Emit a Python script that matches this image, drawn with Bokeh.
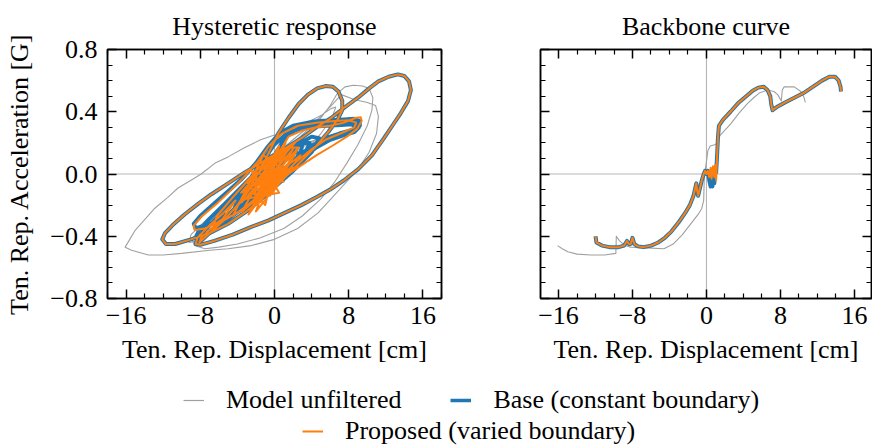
from bokeh.plotting import figure
from bokeh.models import (FixedTicker, CustomJSTickFormatter, LinearAxis, Span,
                          Range1d, Legend, LegendItem)
from bokeh.layouts import column, row
from bokeh.embed import file_html
from bokeh.resources import INLINE

FONT = "Liberation Serif"
FS = "26px"
BLUE = "#1f77b4"
ORANGE = "#ff7f0e"
GRAY = "#a0a0a0"

# ---------------- tick values ----------------
x_major = [-16, -8, 0, 8, 16]
x_minor = [-18, -14, -12, -10, -6, -4, -2, 2, 4, 6, 10, 12, 14, 18]
y_major = [-0.8, -0.4, 0.0, 0.4, 0.8]
y_minor = [-0.7, -0.6, -0.5, -0.3, -0.2, -0.1, 0.1, 0.2, 0.3, 0.5, 0.6, 0.7]

# ---------------- hysteretic response (x [cm], y [G]) ----------------
base_center = [(0.0, 0.00), (1.0, 0.08), (2.2, 0.14), (2.7, 0.13), (1.8, 0.05), (0.0, -0.05),
               (-2.0, -0.14), (-2.8, -0.16), (-2.3, -0.09), (-1.0, 0.01), (1.0, 0.12), (3.0, 0.20),
               (3.8, 0.20), (3.2, 0.12), (1.2, 0.00), (-1.2, -0.12), (-3.5, -0.22), (-4.4, -0.24),
               (-4.0, -0.16), (-2.5, -0.06), (-0.2, 0.07), (2.0, 0.17), (4.0, 0.24), (4.8, 0.23),
               (4.0, 0.14), (2.0, 0.02), (-0.5, -0.11), (-3.0, -0.21), (-5.0, -0.28), (-5.9, -0.30),
               (-5.3, -0.22), (-3.5, -0.11), (-1.0, -0.01)]
base_band = [(0.0, 0.12), (1.2, 0.24), (2.5, 0.29), (4.0, 0.31), (5.5, 0.32), (7.0, 0.33), (8.3, 0.34),
             (9.0, 0.33), (9.1, 0.30), (8.6, 0.27), (7.5, 0.25), (6.0, 0.22), (4.5, 0.17), (3.0, 0.10),
             (1.5, 0.02), (0.0, -0.06), (-2.0, -0.16), (-4.0, -0.24), (-6.0, -0.30), (-7.5, -0.33),
             (-8.5, -0.35), (-8.7, -0.32), (-8.0, -0.27), (-6.5, -0.19), (-5.0, -0.11), (-3.5, -0.03),
             (-2.0, 0.07), (-0.8, 0.17), (0.5, 0.26), (2.0, 0.31), (4.0, 0.335), (6.0, 0.345),
             (7.5, 0.35), (8.6, 0.355), (9.2, 0.34), (9.2, 0.31), (8.5, 0.285), (7.0, 0.26), (5.5, 0.23),
             (4.0, 0.18), (2.5, 0.11), (1.0, 0.03), (-1.0, -0.08), (-3.0, -0.18), (-5.0, -0.26),
             (-6.8, -0.32), (-8.0, -0.37), (-8.4, -0.40), (-8.2, -0.37), (-7.2, -0.30), (-5.5, -0.20),
             (-4.0, -0.11), (-2.5, -0.02), (-1.2, 0.09), (0.0, 0.19), (1.5, 0.27), (3.5, 0.30),
             (5.5, 0.31), (7.2, 0.315), (8.3, 0.32), (8.8, 0.30), (8.4, 0.27), (7.0, 0.245),
             (5.5, 0.215), (4.0, 0.16), (2.5, 0.09), (1.0, 0.01), (-1.0, -0.10), (-3.0, -0.20),
             (-5.0, -0.29), (-6.5, -0.35), (-7.6, -0.40)]
mid_loop = [(-8.1, -0.44), (-7.0, -0.38), (-5.5, -0.30), (-4.0, -0.20), (-2.8, -0.10), (-1.5, 0.03),
            (-0.5, 0.15), (0.4, 0.26), (1.5, 0.36), (2.6, 0.45), (3.6, 0.51), (4.6, 0.55), (5.5, 0.565),
            (6.3, 0.56), (6.9, 0.53), (7.3, 0.47), (7.3, 0.41), (6.8, 0.35), (5.8, 0.27), (4.5, 0.18),
            (3.0, 0.09), (1.0, -0.03), (-1.0, -0.14), (-3.0, -0.24), (-5.0, -0.32), (-7.0, -0.38),
            (-9.0, -0.42), (-10.7, -0.45), (-11.7, -0.45), (-12.1, -0.42), (-11.8, -0.38)]
big_loop = [(-11.0, -0.33), (-9.7, -0.26), (-8.2, -0.19), (-6.8, -0.13), (-5.0, -0.06), (-3.2, 0.01),
            (-1.8, 0.06), (-0.7, 0.10), (1.0, 0.16), (2.9, 0.23), (4.5, 0.30), (6.1, 0.36), (7.6, 0.43),
            (9.0, 0.49), (10.2, 0.55), (11.2, 0.595), (12.3, 0.625), (13.3, 0.64), (14.0, 0.63),
            (14.5, 0.595), (14.7, 0.54), (14.4, 0.47), (13.6, 0.39), (12.7, 0.31), (11.8, 0.23),
            (10.5, 0.12), (9.0, 0.03), (7.5, -0.04), (6.0, -0.10), (4.5, -0.15), (2.9, -0.20),
            (1.1, -0.25), (-0.7, -0.30), (-2.5, -0.34), (-4.5, -0.39), (-6.5, -0.43), (-8.0, -0.455),
            (-8.5, -0.45), (-8.3, -0.41)]
base_tail = [(-7.0, -0.33), (-5.5, -0.24), (-4.0, -0.14), (-2.5, -0.04), (-1.0, 0.06), (0.5, 0.13),
             (2.0, 0.18), (3.0, 0.19), (2.8, 0.13), (1.2, 0.03), (-1.0, -0.10), (-2.5, -0.17),
             (-3.2, -0.18), (-2.4, -0.09), (-0.8, 0.02), (0.5, 0.07), (0.8, 0.04), (0.0, -0.01)]

prop_center = [(0.0, 0.02), (2.0, 0.16), (-1.5, -0.18), (1.0, 0.12), (-2.5, -0.08), (2.5, 0.05),
               (-3.5, -0.24), (0.5, 0.18), (-1.0, -0.20), (-3.0, -0.05), (1.5, 0.02), (-2.0, -0.24),
               (0.0, 0.10), (-4.0, -0.20), (2.8, 0.12), (-0.5, -0.14), (-2.5, 0.02), (1.0, -0.05),
               (-1.5, 0.08), (0.5, -0.12), (-3.2, -0.16), (2.2, 0.20), (-0.8, 0.05), (-2.2, -0.20),
               (1.8, 0.08), (-0.2, -0.08), (-4.5, -0.27), (-1.2, 0.12), (0.8, 0.03), (-2.8, -0.26),
               (1.2, 0.20), (-0.6, -0.02), (-3.6, -0.12), (0.3, 0.14), (-1.8, -0.12), (2.6, 0.17),
               (0.0, -0.10), (-2.4, -0.02), (1.4, 0.15), (-1.0, -0.08), (0.6, 0.06), (-0.3, 0.0)]
prop_band = [(0.4, 0.13), (1.5, 0.24), (3.0, 0.28), (4.5, 0.30), (6.0, 0.31), (7.5, 0.33), (8.7, 0.36),
             (9.3, 0.365), (9.4, 0.34), (8.9, 0.29), (7.8, 0.24), (6.2, 0.18), (4.5, 0.12), (3.0, 0.06),
             (1.5, 0.0), (0.0, -0.08), (-2.0, -0.17), (-4.0, -0.25), (-6.0, -0.31), (-7.5, -0.35),
             (-8.6, -0.36), (-8.7, -0.33), (-7.8, -0.27), (-6.2, -0.19), (-4.8, -0.11), (-3.3, -0.02),
             (-1.8, 0.08), (-0.6, 0.18), (0.8, 0.26), (2.5, 0.31), (4.5, 0.33), (6.5, 0.34), (8.0, 0.345),
             (8.8, 0.33), (8.6, 0.30), (7.3, 0.265), (5.5, 0.22), (3.8, 0.15), (2.2, 0.07), (0.5, -0.03),
             (-1.5, -0.13), (-3.5, -0.23), (-5.5, -0.30), (-7.0, -0.36), (-7.9, -0.41)]
prop_tail = [(-7.0, -0.33), (-5.5, -0.25), (-4.2, -0.17), (-5.6, -0.29), (-6.6, -0.33), (-6.2, -0.27),
             (-4.5, -0.15), (-3.0, -0.05), (-1.5, 0.05), (0.0, 0.12), (1.5, 0.17), (2.5, 0.17), (1.5, 0.07),
             (-0.5, -0.06), (-2.0, -0.14), (-2.4, -0.12), (-1.0, -0.02), (0.2, 0.02)]

gray_center = [(0.0, 0.03), (1.5, 0.09), (3.0, 0.14), (3.3, 0.12), (2.0, 0.05), (0.0, -0.04),
               (-2.0, -0.12), (-3.5, -0.17), (-3.7, -0.15), (-2.5, -0.08), (-0.5, 0.02), (2.0, 0.13),
               (4.0, 0.21), (5.0, 0.23), (4.2, 0.15), (2.0, 0.03), (-0.5, -0.09), (-3.0, -0.20),
               (-5.5, -0.30), (-7.2, -0.36), (-7.3, -0.33)]
gray_loop1 = [(-6.5, -0.28), (-4.5, -0.17), (-2.5, -0.06), (-0.5, 0.06), (1.5, 0.17), (3.5, 0.28),
              (5.0, 0.36), (6.0, 0.44), (6.8, 0.52), (7.6, 0.56), (8.5, 0.57), (9.5, 0.565), (10.2, 0.55),
              (10.6, 0.49), (10.5, 0.41), (10.0, 0.31), (9.0, 0.19), (7.8, 0.07), (6.5, -0.05),
              (5.0, -0.16), (3.0, -0.27), (1.0, -0.35), (-1.5, -0.41), (-4.0, -0.45), (-6.0, -0.47),
              (-7.5, -0.48), (-8.6, -0.46), (-8.9, -0.42), (-8.3, -0.37)]
gray_loop2 = [(-7.0, -0.30), (-5.0, -0.19), (-3.0, -0.07), (-1.0, 0.06), (1.0, 0.17), (3.0, 0.27),
              (5.0, 0.37), (6.3, 0.45), (7.2, 0.51), (8.5, 0.48), (10.0, 0.46), (10.9, 0.44), (11.2, 0.37),
              (11.0, 0.26), (10.2, 0.14), (9.0, 0.03), (7.0, -0.10), (4.7, -0.25), (2.5, -0.35),
              (0.0, -0.42), (-2.5, -0.46), (-5.0, -0.48), (-7.0, -0.49), (-10.0, -0.51), (-12.0, -0.52),
              (-13.6, -0.52), (-15.4, -0.49), (-16.1, -0.47), (-15.6, -0.42), (-15.0, -0.36),
              (-13.8, -0.28), (-12.9, -0.22), (-11.5, -0.15), (-10.4, -0.09), (-9.0, -0.04), (-7.9, 0.0),
              (-6.4, 0.07), (-5.0, 0.11), (-3.2, 0.17), (-1.5, 0.22), (0.0, 0.25), (1.8, 0.28),
              (3.5, 0.33), (5.1, 0.38), (6.1, 0.42), (6.6, 0.43), (6.2, 0.36), (5.0, 0.26), (3.5, 0.16),
              (1.5, 0.04), (-0.5, -0.07), (-2.5, -0.17), (-4.5, -0.27), (-6.5, -0.36), (-8.3, -0.43),
              (-9.2, -0.44), (-9.0, -0.39), (-7.8, -0.32), (-6.0, -0.22), (-4.0, -0.11), (-2.0, -0.01),
              (0.0, 0.08), (1.5, 0.12), (1.0, 0.06), (0.0, 0.01)]

# ---------------- backbone curve ----------------
bb_base = [(-12.0, -0.40), (-11.9, -0.44), (-11.3, -0.46), (-10.5, -0.47), (-9.5, -0.47), (-8.9, -0.46),
           (-8.6, -0.43), (-8.4, -0.45), (-8.2, -0.45), (-8.0, -0.41), (-7.8, -0.45), (-7.4, -0.465),
           (-6.8, -0.47), (-6.0, -0.46), (-5.2, -0.44), (-4.5, -0.41), (-3.8, -0.37), (-3.0, -0.31),
           (-2.3, -0.25), (-1.8, -0.20), (-1.4, -0.14), (-1.1, -0.06), (-1.0, -0.11), (-0.9, -0.14),
           (-0.7, -0.09), (-0.5, -0.04), (-0.3, 0.0), (-0.15, 0.02), (0.0, 0.0), (0.15, 0.02),
           (0.3, -0.04), (0.45, -0.08), (0.55, -0.01), (0.65, -0.08), (0.75, 0.03), (0.85, -0.06),
           (0.95, 0.04), (1.05, 0.01), (1.15, 0.12), (1.25, 0.24), (1.35, 0.31), (1.8, 0.35),
           (2.6, 0.40), (3.5, 0.46), (4.3, 0.50), (5.0, 0.535), (5.6, 0.555), (6.2, 0.56), (6.6, 0.54),
           (6.9, 0.50), (7.0, 0.45), (7.15, 0.41), (7.6, 0.43), (8.5, 0.46), (9.5, 0.49), (10.5, 0.52),
           (11.5, 0.56), (12.5, 0.60), (13.3, 0.625), (13.9, 0.625), (14.3, 0.60), (14.5, 0.56),
           (14.55, 0.53)]
bb_prop = [(-12.0, -0.40), (-11.9, -0.44), (-11.3, -0.46), (-10.5, -0.47), (-9.5, -0.47), (-8.9, -0.46),
           (-8.6, -0.43), (-8.4, -0.45), (-8.2, -0.45), (-8.0, -0.41), (-7.8, -0.45), (-7.4, -0.465),
           (-6.8, -0.47), (-6.0, -0.46), (-5.2, -0.44), (-4.5, -0.41), (-3.8, -0.37), (-3.0, -0.31),
           (-2.3, -0.25), (-1.8, -0.20), (-1.4, -0.14), (-1.1, -0.06), (-1.0, -0.11), (-0.9, -0.14),
           (-0.7, -0.09), (-0.5, -0.04), (-0.3, 0.0), (-0.15, 0.02), (0.0, 0.0), (0.15, 0.02),
           (0.3, -0.02), (0.45, 0.04), (0.55, -0.03), (0.7, 0.05), (0.85, -0.02), (0.95, 0.06),
           (1.05, -0.04), (1.15, 0.12), (1.25, 0.24), (1.35, 0.31), (1.8, 0.35), (2.6, 0.40),
           (3.5, 0.46), (4.3, 0.50), (5.0, 0.535), (5.6, 0.555), (6.2, 0.56), (6.6, 0.54), (6.9, 0.50),
           (7.0, 0.45), (7.15, 0.41), (7.6, 0.43), (8.5, 0.46), (9.5, 0.49), (10.5, 0.52), (11.5, 0.56),
           (12.5, 0.60), (13.3, 0.625), (13.9, 0.625), (14.3, 0.60), (14.5, 0.56), (14.55, 0.53)]
bb_gray = [(-16.1, -0.46), (-15.6, -0.48), (-15.0, -0.50), (-14.0, -0.515), (-12.5, -0.52),
           (-11.0, -0.52), (-9.8, -0.51), (-9.75, -0.40), (-9.4, -0.43), (-8.8, -0.46), (-8.2, -0.47),
           (-6.5, -0.475), (-4.6, -0.48), (-3.6, -0.45), (-2.6, -0.39), (-1.7, -0.32), (-0.9, -0.26),
           (-0.5, -0.22), (-0.3, -0.17), (-0.25, -0.05), (-0.2, 0.0), (0.0, 0.08), (0.15, 0.15),
           (0.4, 0.18), (1.0, 0.19), (1.5, 0.25), (2.6, 0.32), (3.5, 0.39), (4.4, 0.45), (5.1, 0.49),
           (5.7, 0.52), (6.6, 0.54), (7.3, 0.53), (7.7, 0.51), (8.1, 0.47), (8.2, 0.54), (8.4, 0.56),
           (9.5, 0.56), (10.2, 0.53), (10.5, 0.50), (10.7, 0.46)]


def xs(*segs):
    return [p[0] for s in segs for p in s]


def ys(*segs):
    return [p[1] for s in segs for p in s]


XFMT = CustomJSTickFormatter(code="return (tick < 0 ? '\\u2212' : '') + Math.abs(tick).toFixed(0);")
YFMT = CustomJSTickFormatter(code="return (tick < 0 ? '\\u2212' : '') + Math.abs(tick).toFixed(1);")


def style_axis(ax, ticks, minor, fmt, labels=True):
    ax.ticker = FixedTicker(ticks=ticks, minor_ticks=minor)
    ax.formatter = fmt
    ax.axis_line_color = "black"
    ax.axis_line_width = 1.5
    ax.major_tick_in = 9
    ax.major_tick_out = 0
    ax.minor_tick_in = 5
    ax.minor_tick_out = 0
    ax.major_tick_line_color = "black"
    ax.minor_tick_line_color = "black"
    ax.major_tick_line_width = 1.5
    ax.minor_tick_line_width = 1.2
    ax.major_label_text_font = FONT
    ax.axis_label_text_font = FONT
    ax.axis_label_text_font_size = FS
    ax.axis_label_text_font_style = "normal"
    ax.axis_label_text_color = "black"
    if labels:
        ax.major_label_text_font_size = FS
        ax.major_label_text_color = "black"
    else:
        ax.major_label_text_font_size = "0px"
        ax.major_label_text_color = None
        ax.major_label_standoff = 0


def make_panel(title, width, xr, mbl, mbr, ylabel, ylabels):
    p = figure(width=width, height=372, x_range=Range1d(*xr), y_range=Range1d(-0.8, 0.8),
               output_backend="svg", toolbar_location=None, title=title,
               min_border_left=mbl, min_border_right=mbr, min_border_top=48, min_border_bottom=74)
    p.title.text_font = FONT
    p.title.text_font_size = FS
    p.title.text_font_style = "normal"
    p.title.text_color = "black"
    p.title.align = "center"
    p.title.standoff = 18
    p.grid.visible = False
    p.outline_line_color = "black"
    p.outline_line_width = 1.5
    p.background_fill_color = "white"
    p.border_fill_color = "white"
    xb = p.below[0]
    yl = p.left[0]
    style_axis(xb, x_major, x_minor, XFMT, True)
    xb.axis_label = "Ten. Rep. Displacement [cm]"
    xb.major_label_standoff = 8
    xb.axis_label_standoff = 8
    style_axis(yl, y_major, y_minor, YFMT, ylabels)
    if ylabels:
        yl.major_label_standoff = 10
    if ylabel:
        yl.axis_label = ylabel
        yl.axis_label_standoff = 13
    xa = LinearAxis()
    style_axis(xa, x_major, x_minor, XFMT, False)
    p.add_layout(xa, "above")
    yr = LinearAxis()
    style_axis(yr, y_major, y_minor, YFMT, False)
    p.add_layout(yr, "right")
    p.add_layout(Span(location=0, dimension="width", line_color="#cfcfcf", line_width=1.3,
                      level="underlay"))
    p.add_layout(Span(location=0, dimension="height", line_color="#b5b5b5", line_width=1.1,
                      level="underlay"))
    return p


p1 = make_panel("Hysteretic response", 500, (-18, 18), 107, 59, "Ten. Rep. Acceleration [G]", True)
p2 = make_panel("Backbone curve", 372, (-17.95, 17.85), 40, 1, None, False)

g_segs = (gray_center, gray_loop1, gray_loop2)
b_segs = (base_center, base_band, mid_loop, big_loop, base_tail)
o_segs = (prop_center, prop_band, mid_loop, big_loop, prop_tail)

p1.line(xs(*g_segs), ys(*g_segs), line_color=GRAY, line_width=1.1, line_join="round")
p1.line(xs(*b_segs), ys(*b_segs), line_color=BLUE, line_width=4, line_join="round")
p1.line(xs(*o_segs), ys(*o_segs), line_color=ORANGE, line_width=2, line_join="round")

p2.line(xs(bb_gray), ys(bb_gray), line_color=GRAY, line_width=1.1, line_join="round")
p2.line(xs(bb_base), ys(bb_base), line_color=BLUE, line_width=4, line_join="round")
p2.line(xs(bb_prop), ys(bb_prop), line_color=ORANGE, line_width=2, line_join="round")

# ---------------- legend strip ----------------
# proxy renderers carry the series data but sit outside this strip's view ranges
pl = figure(width=872, height=76, x_range=Range1d(100, 972), y_range=Range1d(100, 176),
            output_backend="svg", toolbar_location=None, x_axis_type=None, y_axis_type=None,
            min_border=0, outline_line_color=None)
pl.grid.visible = False
rg = pl.line(xs(bb_gray), ys(bb_gray), line_color=GRAY, line_width=1.2)
rb = pl.line(xs(bb_base), ys(bb_base), line_color=BLUE, line_width=3.5)
ro = pl.line(xs(bb_prop), ys(bb_prop), line_color=ORANGE, line_width=2)


def make_legend(items, loc):
    return Legend(items=items, orientation="horizontal", location=loc,
                  glyph_width=21, glyph_height=20, label_standoff=22, spacing=49,
                  padding=0, margin=0, border_line_color=None, background_fill_alpha=0,
                  label_text_font=FONT, label_text_font_size=FS, label_text_color="black")


pl.add_layout(make_legend([LegendItem(label="Model unfiltered", renderers=[rg]),
                           LegendItem(label="Base (constant boundary)", renderers=[rb])], (183, 33)))
pl.add_layout(make_legend([LegendItem(label="Proposed (varied boundary)", renderers=[ro])], (302, 2)))

layout = column(row(p1, p2), pl)

with open("out.html", "w", encoding="utf-8") as f:
    f.write(file_html(layout, INLINE))
